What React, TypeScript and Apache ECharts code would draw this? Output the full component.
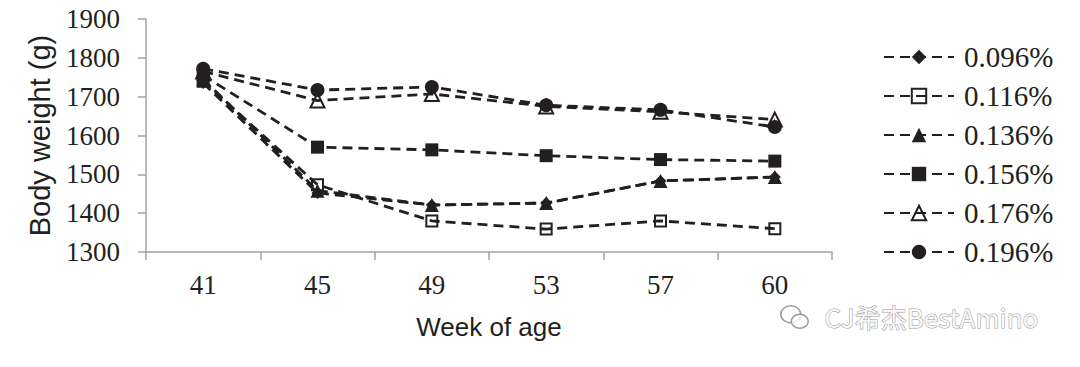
import React, { useEffect, useRef } from "react";
import * as echarts from "echarts";

const weeks = ["41", "45", "49", "53", "57", "60"];
const seriesNames = ["0.096%", "0.116%", "0.136%", "0.156%", "0.176%", "0.196%"];
const s096 = [1735, 1452, 1421, 1426, 1483, 1493];
const s116 = [1740, 1473, 1380, 1359, 1380, 1360];
const s136 = [1745, 1458, 1421, 1426, 1483, 1493];
const s156 = [1755, 1570, 1563, 1548, 1538, 1534];
const s176 = [1765, 1690, 1707, 1675, 1661, 1641];
const s196 = [1772, 1717, 1725, 1678, 1666, 1622];
const yTicks = { min: 1300, max: 1900, interval: 100 };

const INK = "#231f20";

export default function App() {
  const ref = useRef<HTMLDivElement>(null);
  useEffect(() => {
    if (!ref.current) return;
    const chart = echarts.init(ref.current, undefined, { renderer: "svg" });
    const values = [s096, s116, s136, s156, s176, s196];
    const symbols = ["diamond", "rect", "triangle", "rect", "triangle", "circle"];
    const sizes = [12, 11, 14, 13, 14, 14];
    const hollow = [false, true, false, false, true, false];
    const series = values.map((v, i) => ({
      name: seriesNames[i],
      type: "line",
      data: v,
      symbol: symbols[i],
      symbolSize: sizes[i],
      showAllSymbol: true,
      z: 2 + i,
      lineStyle: { color: INK, width: 2.8, type: [10, 6] },
      itemStyle: {
        color: hollow[i] ? "rgba(255,255,255,0)" : INK,
        borderColor: INK,
        borderWidth: hollow[i] ? 2 : 0,
      },
      emphasis: { disabled: true },
    }));
    chart.setOption({
      animation: false,
      grid: { left: 146, right: 248, top: 19, bottom: 115 },
      legend: {
        orient: "vertical",
        left: 878,
        top: 37,
        itemWidth: 70,
        itemHeight: 18,
        itemGap: 9,
        data: seriesNames,
        textStyle: {
          fontFamily: "Liberation Serif",
          fontSize: 29,
          color: INK,
          lineHeight: 30,
          padding: [0, 0, 0, 5],
        },
      },
      xAxis: {
        type: "category",
        data: weeks,
        boundaryGap: true,
        name: "Week of age",
        nameLocation: "middle",
        nameGap: 62,
        nameTextStyle: { fontFamily: "Liberation Sans", fontSize: 26, color: INK },
        axisLine: { lineStyle: { color: "#a3a3a3", width: 1.5 } },
        axisTick: { show: true, length: 8, lineStyle: { color: "#a3a3a3", width: 1.5 } },
        axisLabel: { fontFamily: "Liberation Serif", fontSize: 27, color: INK, margin: 19 },
        splitLine: { show: false },
      },
      yAxis: {
        type: "value",
        min: yTicks.min,
        max: yTicks.max,
        interval: yTicks.interval,
        name: "Body weight (g)",
        nameLocation: "middle",
        nameRotate: 90,
        nameGap: 92,
        nameTextStyle: { fontFamily: "Liberation Sans", fontSize: 29, color: INK },
        axisLine: { show: true, lineStyle: { color: "#a3a3a3", width: 1.5 } },
        axisTick: { show: true, length: 8, lineStyle: { color: "#a3a3a3", width: 1.5 } },
        axisLabel: {
          fontFamily: "Liberation Serif",
          fontSize: 27,
          color: INK,
          margin: 26,
          formatter: (v: number) => String(v),
        },
        splitLine: { show: false },
      },
      series,
      graphic: [
        {
          type: "group",
          left: 780,
          top: 305,
          z: 100,
          children: [
            {
              type: "ellipse",
              shape: { cx: 10, cy: 10, rx: 10, ry: 8.5 },
              style: { fill: "rgba(255,255,255,0.6)", stroke: "#9a9a9a", lineWidth: 1.5 },
            },
            {
              type: "ellipse",
              shape: { cx: 19, cy: 17, rx: 8.5, ry: 7 },
              style: { fill: "rgba(255,255,255,0.8)", stroke: "#9a9a9a", lineWidth: 1.5 },
            },
          ],
        },
        {
          type: "text",
          left: 824,
          top: 303,
          z: 100,
          style: {
            text: "CJ希杰BestAmino",
            font: '26px "Noto Sans CJK SC"',
            fill: "rgba(255,255,255,0.85)",
            stroke: "#a0a0a0",
            lineWidth: 1,
          },
        },
      ],
    });
    return () => chart.dispose();
  }, []);
  return (
    <div
      ref={ref}
      style={{ position: "absolute", left: 0, top: 0, width: 1080, height: 367 }}
    />
  );
}
